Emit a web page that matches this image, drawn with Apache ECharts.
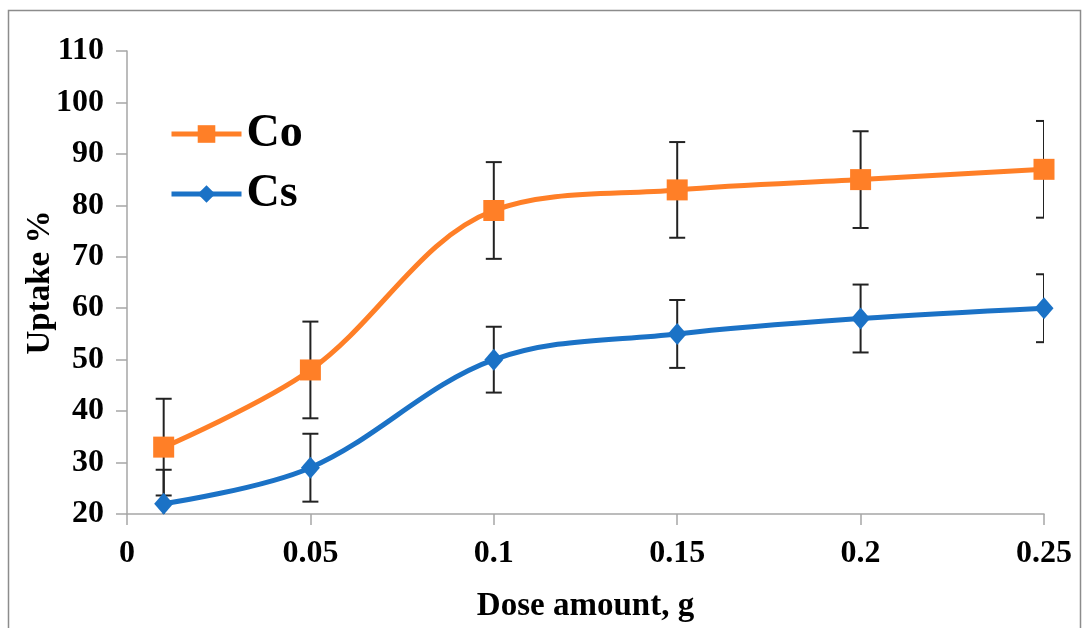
<!DOCTYPE html>
<html><head><meta charset="utf-8">
<script src="https://cdn.jsdelivr.net/npm/echarts@6/dist/echarts.min.js"></script>
<style>html,body{margin:0;padding:0;background:#fff}#c{width:1089px;height:628px}</style>
</head><body><div id="c"></div>
<script>
const doses = [0.01, 0.05, 0.1, 0.15, 0.2, 0.25];
const coValues = [33, 48, 79, 83, 85, 87];
const csValues = [22, 29, 50, 55, 58, 60];
const coErr = [9.4, 9.4, 9.4, 9.3, 9.4, 9.4];
const csErr = [6.6, 6.6, 6.4, 6.6, 6.6, 6.6];
const xTickLabels = ['0', '0.05', '0.1', '0.15', '0.2', '0.25'];
const yTickLabels = ['20','30','40','50','60','70','80','90','100','110'];

const FONT = '"Liberation Serif", "DejaVu Serif", serif';
const chart = echarts.init(document.getElementById('c'));

function errData(vals, errs) {
  return doses.map((d, i) => [d, vals[i] - errs[i], vals[i] + errs[i]]);
}
function errRender(params, api) {
  const x = api.value(0);
  const lo = api.coord([x, api.value(1)]);
  const hi = api.coord([x, api.value(2)]);
  const w = 8;
  const style = {stroke: '#222', lineWidth: 2};
  return {
    type: 'group',
    children: [
      {type: 'line', shape: {x1: lo[0], y1: lo[1], x2: hi[0], y2: hi[1]}, style},
      {type: 'line', shape: {x1: lo[0] - w, y1: lo[1], x2: lo[0] + w, y2: lo[1]}, style},
      {type: 'line', shape: {x1: hi[0] - w, y1: hi[1], x2: hi[0] + w, y2: hi[1]}, style}
    ]
  };
}

chart.setOption({
  animation: false,
  graphic: [{type: 'rect', shape: {x: 8.5, y: 10.5, width: 1072, height: 640}, style: {fill: 'none', stroke: '#8c8c8c', lineWidth: 1.5}, z: -10}],
  grid: {left: 127, right: 45, top: 51, bottom: 111},
  legend: {
    orient: 'vertical', left: 164, top: 106, itemWidth: 70, itemHeight: 22, itemGap: 14,
    lineStyle: {width: 5},
    textStyle: {fontFamily: FONT, fontWeight: 'bold', fontSize: 46, color: '#000'},
    data: ['Co', 'Cs']
  },
  xAxis: {
    type: 'value', min: 0, max: 0.25, interval: 0.05,
    name: 'Dose amount, g', nameLocation: 'middle', nameGap: 76,
    nameTextStyle: {fontFamily: FONT, fontWeight: 'bold', fontSize: 33, color: '#000'},
    axisLine: {show: true, lineStyle: {color: '#a6a6a6', width: 1.5}},
    axisTick: {show: true, inside: false, length: 11, lineStyle: {color: '#a6a6a6', width: 1.5}},
    splitLine: {show: false},
    axisLabel: {fontFamily: FONT, fontWeight: 'bold', fontSize: 32, color: '#000', margin: 24,
      formatter: (v) => { const i = Math.round(v / 0.05); return xTickLabels[i] ?? ''; }}
  },
  yAxis: {
    type: 'value', min: 20, max: 110, interval: 10,
    name: 'Uptake %', nameLocation: 'middle', nameGap: 70, nameRotate: 90, nameMoveOverlap: false,
    nameTextStyle: {fontFamily: FONT, fontWeight: 'bold', fontSize: 33, color: '#000'},
    axisLine: {show: true, lineStyle: {color: '#a6a6a6', width: 1.5}},
    axisTick: {show: true, inside: false, length: 11, lineStyle: {color: '#a6a6a6', width: 1.5}},
    splitLine: {show: false},
    axisLabel: {fontFamily: FONT, fontWeight: 'bold', fontSize: 32, color: '#000', margin: 23,
      formatter: (v) => { const i = Math.round((v - 20) / 10); return yTickLabels[i] ?? ''; }}
  },
  series: [
    {type: 'custom', name: 'CoErr', data: errData(coValues, coErr), renderItem: errRender, clip: true, z: 1, encode: {x: 0, y: [1, 2]}},
    {type: 'custom', name: 'CsErr', data: errData(csValues, csErr), renderItem: errRender, clip: true, z: 1, encode: {x: 0, y: [1, 2]}},
    {type: 'line', name: 'Co', data: doses.map((d, i) => [d, coValues[i]]), smooth: 0.35,
      symbol: 'rect', symbolSize: 21, lineStyle: {color: '#FF7F27', width: 5},
      itemStyle: {color: '#FF7F27'}, z: 3},
    {type: 'line', name: 'Cs', data: doses.map((d, i) => [d, csValues[i]]), smooth: 0.35,
      symbol: 'diamond', symbolSize: [19, 22], lineStyle: {color: '#1B72C6', width: 5},
      itemStyle: {color: '#1B72C6'}, z: 3}
  ]
});
</script></body></html>
